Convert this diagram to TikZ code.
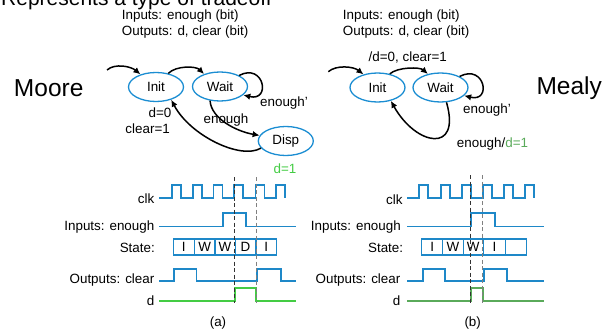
\documentclass[tikz,border=0pt]{standalone}
\usepackage{fontspec}
\setmainfont{Liberation Sans}
\usetikzlibrary{shapes.geometric,arrows.meta}
\definecolor{fsmblue}{HTML}{1B8DD2}
\definecolor{wblue}{HTML}{1E88C8}
\definecolor{brgreen}{HTML}{44CC44}
\definecolor{dkgreen}{HTML}{5AAA5A}
\newcommand{\txtsz}{\fontsize{13.4}{16}\selectfont}
\begin{document}
\begin{tikzpicture}[x=1pt,y=-1pt,
  fsm/.style={ellipse, draw=fsmblue, line width=1.3pt, minimum width=55pt, minimum height=29pt, inner sep=0pt, font=\txtsz},
  tr/.style={-{Latex[length=7pt,width=6.5pt]}, line width=1.5pt, black},
  wave/.style={wblue, line width=1.8pt},
  gwave/.style={line width=1.8pt},
  lab/.style={font=\txtsz, inner sep=0pt},
  big/.style={font=\fontsize{24.5}{28}\selectfont, inner sep=0pt},
  cell/.style={draw=wblue, line width=1.2pt, minimum height=16pt, minimum width=20.7pt, inner sep=0pt, font=\txtsz},
  vdash/.style={line width=0.8pt, dash pattern=on 4pt off 2.5pt}]
\useasboundingbox (0,0) rectangle (606,329);
\clip (0,0) rectangle (606,329);
% title
\node[inner sep=0pt, anchor=base west, font=\fontsize{21}{24}\selectfont] (title) at (1,6) {Represents a type of tradeoff};
% headers
\node[lab, anchor=west] (min) at (121.7,16) {Inputs: enough (bit)};
\node[lab, anchor=west] (mout) at (121.7,32.3) {Outputs: d, clear (bit)};
\node[lab, anchor=west] (ein) at (342.7,16) {Inputs: enough (bit)};
\node[lab, anchor=west] (eout) at (342.7,32.3) {Outputs: d, clear (bit)};
\node[big] (moore) at (48.7,88) {Moore};
\node[big] (mealy) at (569.2,88) {Mealy};
% Moore FSM
\node[fsm] (mi) at (156,87) {Init};
\node[fsm] (mw) at (220,86.5) {Wait};
\node[fsm] (md) at (285.8,141) {Disp};
\coordinate (ms) at (107,70);
\draw[tr] (ms) .. controls +(8,-7) and +(-9.5,-8) .. (mi.141);
\draw[tr] (mi.48) .. controls +(8,-8) and +(-8,-8) .. (mw.142);
\draw[tr] (mw.30) .. controls +(25,-13) and +(28,7) .. (mw.-20);
\draw[tr] (mw.-125) .. controls +(1,18) and +(-23,-4) .. (md.168);
\draw[tr] (md.-164) .. controls +(-20,12) and +(19,36) .. (mi.-40);
\node[lab] (mlen1) at (284,103) {enough'};
\node[lab] (mlen2) at (226,120) {enough};
\node[lab, anchor=east] (md0) at (171.5,112.7) {d=0};
\node[lab, anchor=east] (mc1) at (170,128.3) {clear=1};
\node[lab, text=brgreen] (md1) at (285,169) {d=1};
% Mealy FSM
\node[fsm] (ei) at (377.5,87.5) {Init};
\node[fsm] (ew) at (440.5,87.5) {Wait};
\coordinate (es) at (328.3,71.7);
\draw[tr] (es) .. controls +(8,-7) and +(-10,-8) .. (ei.137);
\draw[tr] (ei.48) .. controls +(8,-7) and +(-8,-7) .. (ew.133);
\draw[tr] (ew.30) .. controls +(25,-13) and +(28,7) .. (ew.-19);
\draw[tr] (ew.-68) .. controls +(15,52) and +(25,45) .. (ei.-45);
\node[lab] (elt) at (407.8,57.3) {/d=0, clear=1};
\node[lab] (elen1) at (487,110) {enough'};
\node[lab, anchor=west] (elen2) at (456.7,144) {enough/\textcolor{dkgreen}{d=1}};
% Moore timing
\node[lab, anchor=east] (mclk) at (154.5,199) {clk};
\node[lab, anchor=east] (menough) at (154.5,226.7) {Inputs: enough};
\node[lab, anchor=east] (mstate) at (155,248) {State:};
\node[lab, anchor=east] (mclear) at (154.5,280) {Outputs: clear};
\node[lab, anchor=east] (mdl) at (154.5,301) {d};
\draw[wave] (159,198.3) foreach \x in {172,193,213.5,234,255.5,276} { -- (\x,198.3) -- (\x,185) -- ++(9,0) -- ++(0,13.3) };
\draw[wave] (159,226.5) -- (223.3,226.5) -- (223.3,212.7) -- (246,212.7) -- (246,226.5) -- (295.5,226.5);
\foreach \x/\t [count=\i] in {183.8/I,204.6/W,225/W,245.5/D,266.3/I}
  \node[cell, minimum width=20.8pt] (mcell\i) at (\x,247) {\t};
\draw[wave] (159,280.7) -- (174,280.7) -- (174,269) -- (196.5,269) -- (196.5,280.7) -- (257.3,280.7) -- (257.3,269) -- (281,269) -- (281,280.7) -- (295.7,280.7);
\draw[gwave, brgreen] (159,300.7) -- (235.3,300.7) -- (235.3,287.7) -- (256,287.7) -- (256,300.7) -- (295.7,300.7);
\draw[vdash, black!80] (234,177) -- (234,303);
\draw[vdash, gray] (256,177) -- (256,303);
\node[lab] (capa) at (218,322.7) {(a)};
% Mealy timing
\node[lab, anchor=east] (eclk) at (402.7,200) {clk};
\node[lab, anchor=east] (eenough) at (401,226.7) {Inputs: enough};
\node[lab, anchor=east] (estate) at (403.3,248) {State:};
\node[lab, anchor=east] (eclear) at (400.5,280) {Outputs: clear};
\node[lab, anchor=east] (edl) at (400.5,301) {d};
\draw[wave] (407.3,198.3) foreach \x in {419.3,440.7,461.7,482.7,504,525} { -- (\x,198.3) -- (\x,185) -- ++(9,0) -- ++(0,13.3) };
\draw[wave] (407.3,226.5) -- (470.7,226.5) -- (470.7,212.7) -- (495,212.7) -- (495,226.5) -- (544,226.5);
\foreach \x/\t/\w [count=\i] in {432.2/I/21,453/W/20.6,473.3/W/20,494.5/I/22.4,516.2/{}/21}
  \node[cell, minimum width=\w pt] (ecell\i) at (\x,247) {\t};
\draw[wave] (407.3,280.7) -- (422.7,280.7) -- (422.7,269) -- (445,269) -- (445,280.7) -- (484,280.7) -- (484,269) -- (506.7,269) -- (506.7,280.7) -- (544,280.7);
\draw[gwave, dkgreen] (407.3,300.7) -- (470.7,300.7) -- (470.7,287.7) -- (482.7,287.7) -- (482.7,300.7) -- (544,300.7);
\draw[vdash, black!80] (470.7,175) -- (470.7,304);
\draw[vdash, gray] (482.7,175) -- (482.7,304);
\node[lab] (capb) at (472.7,322.7) {(b)};
\end{tikzpicture}
\end{document}
